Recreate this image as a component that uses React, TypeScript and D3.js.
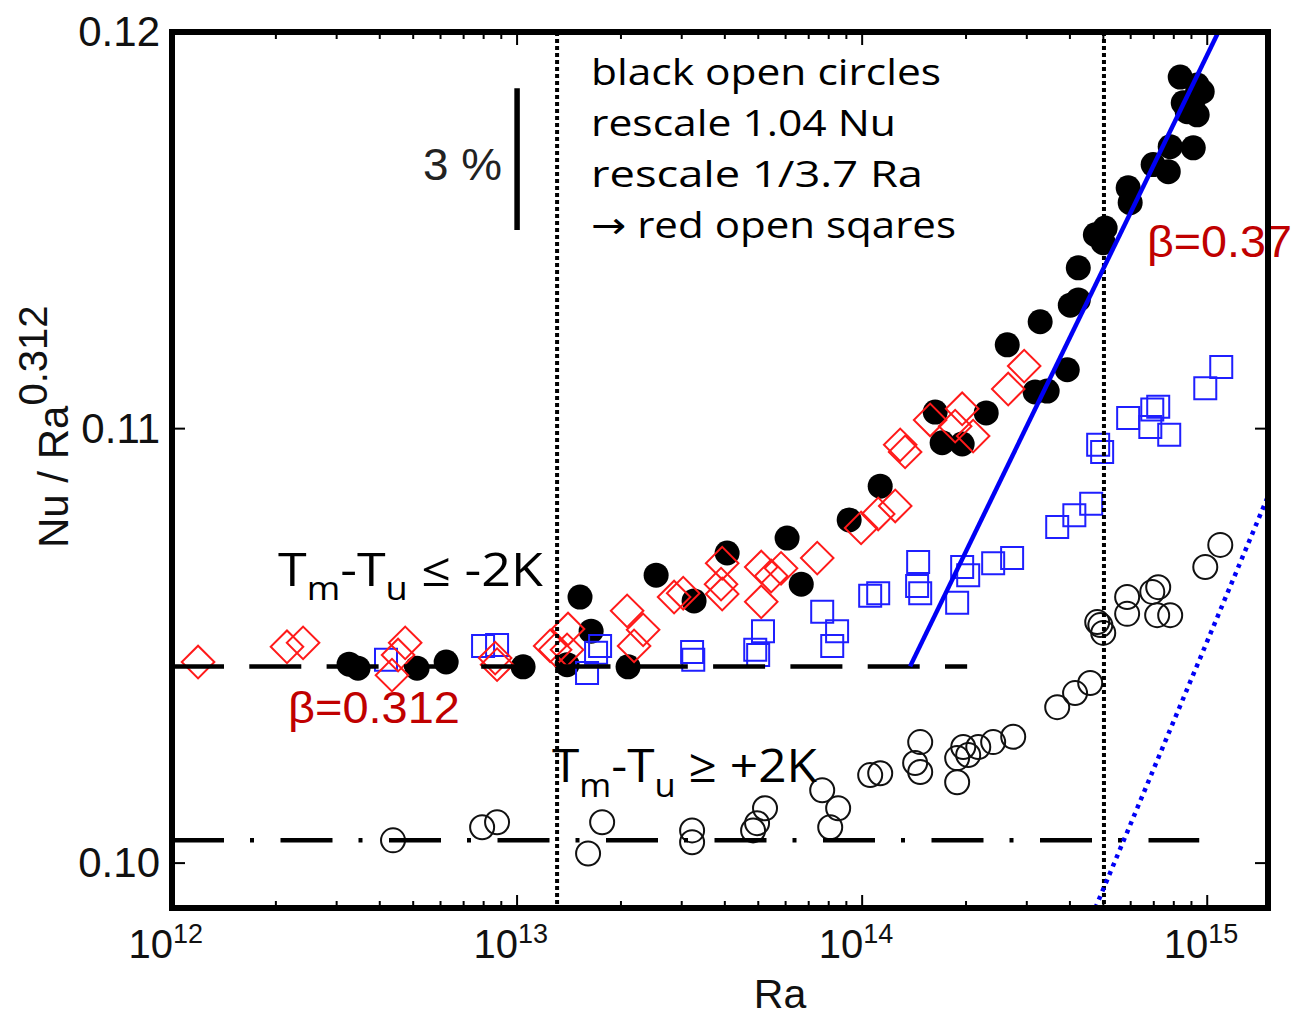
import React from "react";
import * as d3 from "d3";

// Nu / Ra^0.312 versus Ra, log-log
const WIDTH = 1295;
const HEIGHT = 1018;

const raDomain: [number, number] = [1e12, 1.5e15];
const nuDomain: [number, number] = [0.09902, 0.12];

const xMajorTicks = [1e12, 1e13, 1e14, 1e15];
const xTickExponents = ["12", "13", "14", "15"];
const yTicks = [0.1, 0.11, 0.12];
const yTickLabels = ["0.10", "0.11", "0.12"];

// filled black circles
const filledCircles: [number, number][] = [
  [3.26e12, 0.10446], [3.46e12, 0.10437], [5.13e12, 0.10437], [6.23e12, 0.10451],
  [1.041e13, 0.1044], [1.396e13, 0.10445], [1.522e13, 0.10601], [1.639e13, 0.10522],
  [2.097e13, 0.1044], [2.529e13, 0.10652], [3.258e13, 0.10592], [4.062e13, 0.10704],
  [6.06e13, 0.10739], [6.66e13, 0.10631], [9.17e13, 0.10782], [1.128e14, 0.10862],
  [1.628e14, 0.1104], [1.705e14, 0.10966], [1.949e14, 0.10963], [2.288e14, 0.11038],
  [2.633e14, 0.11204], [3.171e14, 0.11089], [3.437e14, 0.11091], [3.28e14, 0.11261],
  [3.93e14, 0.11143], [4.01e14, 0.11302], [4.23e14, 0.11315], [4.23e14, 0.11395],
  [4.74e14, 0.11478], [5.06e14, 0.11495], [4.996e14, 0.11458], [5.9e14, 0.11597],
  [5.98e14, 0.11559], [6.97e14, 0.11656], [7.71e14, 0.11638], [7.81e14, 0.11702],
  [9.11e14, 0.11699], [8.75e14, 0.11792], [9.35e14, 0.11784], [8.52e14, 0.11815],
  [9.11e14, 0.11823], [9.67e14, 0.11844], [8.35e14, 0.11882], [9.35e14, 0.11861],
];

// red open diamonds (rescaled open circles)
const redDiamonds: [number, number][] = [
  [1.19e12, 0.10451], [2.154e12, 0.10486], [2.398e12, 0.10495], [4.74e12, 0.10495],
  [4.52e12, 0.10467], [4.34e12, 0.10421], [8.64e12, 0.1046], [8.75e12, 0.10445],
  [1.289e13, 0.10479], [1.247e13, 0.10488], [1.396e13, 0.10479], [1.405e13, 0.10527],
  [2.084e13, 0.10569], [2.319e13, 0.10525], [2.183e13, 0.10488], [2.851e13, 0.10601],
  [3.03e13, 0.1061], [3.93e13, 0.1068], [3.9e13, 0.10631], [3.93e13, 0.10608],
  [5.1e13, 0.10671], [5.1e13, 0.1059], [5.45e13, 0.1065], [5.82e13, 0.10668],
  [7.41e13, 0.10692], [9.93e13, 0.10763], [1.113e14, 0.10796], [1.247e14, 0.10815],
  [1.289e14, 0.10961], [1.332e14, 0.10944], [1.574e14, 0.11021], [1.86e14, 0.11006],
  [1.949e14, 0.11048], [2.097e14, 0.10982], [2.65e14, 0.11096], [2.948e14, 0.11152],
];

// blue open squares
const blueSquares: [number, number][] = [
  [4.17e12, 0.10456], [7.97e12, 0.10488], [8.75e12, 0.1049], [1.74e13, 0.10488],
  [1.694e13, 0.10472], [1.595e13, 0.10426], [3.215e13, 0.10474], [3.24e13, 0.10456],
  [4.9e13, 0.10479], [4.996e13, 0.10467], [5.16e13, 0.10522], [7.66e13, 0.10567],
  [8.46e13, 0.10522], [8.19e13, 0.10488], [1.055e14, 0.10604], [1.113e14, 0.1061],
  [1.453e14, 0.10683], [1.443e14, 0.10627], [1.473e14, 0.1061], [1.949e14, 0.10671],
  [2.029e14, 0.10652], [1.885e14, 0.10588], [2.397e14, 0.1068], [2.72e14, 0.10692],
  [3.675e14, 0.10765], [4.12e14, 0.10793], [4.61e14, 0.1082], [4.83e14, 0.10961],
  [4.96e14, 0.10944], [5.9e14, 0.11026], [6.93e14, 0.11046], [7.21e14, 0.11053],
  [6.84e14, 0.11004], [7.76e14, 0.10985], [9.87e14, 0.11098], [1.098e15, 0.1115],
];

// black open circles
const openCircles: [number, number][] = [
  [4.37e12, 0.1005], [7.92e12, 0.10079], [8.75e12, 0.1009], [1.606e13, 0.10021],
  [1.764e13, 0.1009], [3.215e13, 0.10072], [3.215e13, 0.10046], [4.83e13, 0.10072],
  [4.96e13, 0.10088], [5.23e13, 0.10121], [7.66e13, 0.10161], [8.52e13, 0.10121],
  [8.08e13, 0.10079], [1.055e14, 0.10195], [1.128e14, 0.10199], [1.473e14, 0.10269],
  [1.424e14, 0.10222], [1.473e14, 0.10202], [1.885e14, 0.10179], [1.885e14, 0.10233],
  [1.963e14, 0.10258], [2.029e14, 0.1024], [2.17e14, 0.10258], [2.397e14, 0.10269],
  [2.74e14, 0.10281], [3.675e14, 0.10348], [4.14e14, 0.1038], [4.58e14, 0.10403],
  [4.8e14, 0.10543], [4.9e14, 0.10536], [4.996e14, 0.10518], [5.86e14, 0.10601],
  [5.86e14, 0.10562], [6.93e14, 0.10613], [7.21e14, 0.10624], [7.16e14, 0.10559],
  [7.81e14, 0.10559], [9.87e14, 0.10671], [1.091e15, 0.10723],
];

// reference lines
const coldPlateau: [number, number][] = [[1e12, 0.10441], [2.015e14, 0.10441]];
const warmPlateau: [number, number][] = [[1e12, 0.1005], [9.48e14, 0.1005]];
const transitionRa = [1.306e13, 5.02e14];
const steepFit: [number, number][] = [[1.377e14, 0.10441], [1.077e15, 0.12]];
const steepFitShifted: [number, number][] = [[4.74e14, 0.09902], [1.493e15, 0.10834]];
const scaleBarRa = 1e13;
const scaleBarRange: [number, number] = [0.1149, 0.11853];

const noteLines = [
  "black open circles",
  "rescale 1.04 Nu",
  "rescale 1/3.7  Ra",
  "\u2192 red open sqares",
];
const noteLengths = [350, 305, 332, 365];

const sansFont = "'Liberation Sans', Arial, Helvetica, sans-serif";
const noteFont = "'Comic Sans MS', 'Open Sans', 'DejaVu Sans', sans-serif";
const darkRed = "#c00000";

export default function App() {
  const x = d3.scaleLog().domain(raDomain).range([172, 1268]);
  const y = d3.scaleLog().domain(nuDomain).range([908, 32]);
  const line = d3
    .line<[number, number]>()
    .x((d) => x(d[0]))
    .y((d) => y(d[1]));

  const diamond = d3.symbol().type(d3.symbolSquare).size(530)() as string;
  const square = d3.symbol().type(d3.symbolSquare).size(484)() as string;

  const [x0, x1] = x.range();
  const [yb, yt] = y.range();
  const allXTicks = x.ticks();

  return (
    <svg
      width={WIDTH}
      height={HEIGHT}
      style={{ position: "absolute", left: 0, top: 0, display: "block", background: "#fff" }}
    >
      <rect x={0} y={0} width={WIDTH} height={HEIGHT} fill="#fff" />

      {/* markers */}
      <g>
        {filledCircles.map((d, i) => (
          <circle key={"f" + i} cx={x(d[0])} cy={y(d[1])} r={12.5} fill="#000" />
        ))}
      </g>
      <g>
        {openCircles.map((d, i) => (
          <circle key={"o" + i} cx={x(d[0])} cy={y(d[1])} r={12} fill="none" stroke="#111" strokeWidth={2} />
        ))}
      </g>
      <g>
        {blueSquares.map((d, i) => (
          <path key={"s" + i} d={square} transform={`translate(${x(d[0])},${y(d[1])})`} fill="none" stroke="#1f1fff" strokeWidth={2} />
        ))}
      </g>
      <g>
        {redDiamonds.map((d, i) => (
          <path key={"d" + i} d={diamond} transform={`translate(${x(d[0])},${y(d[1])}) rotate(45)`} fill="none" stroke="#ff1a1a" strokeWidth={2} />
        ))}
      </g>

      {/* plateau lines */}
      <path d={line(coldPlateau) as string} fill="none" stroke="#000" strokeWidth={4.5} strokeDasharray="52 25.3" />
      <path d={line(warmPlateau) as string} fill="none" stroke="#000" strokeWidth={4.5} strokeDasharray="52 26 4 26.5" />

      {/* transitions */}
      {transitionRa.map((r, i) => (
        <line key={"t" + i} x1={x(r)} x2={x(r)} y1={yt} y2={yb} stroke="#000" strokeWidth={4} strokeDasharray="4 3" />
      ))}

      {/* power-law fits */}
      <path d={line(steepFit) as string} fill="none" stroke="#0000f5" strokeWidth={4.5} />
      <path d={line(steepFitShifted) as string} fill="none" stroke="#0000f5" strokeWidth={4.5} strokeDasharray="4 5" />

      {/* 3 % bar */}
      <line x1={x(scaleBarRa)} x2={x(scaleBarRa)} y1={y(scaleBarRange[0])} y2={y(scaleBarRange[1])} stroke="#000" strokeWidth={5.5} />
      <text x={423} y={180} fontFamily={sansFont} fontSize={44} fill="#222" textLength={79} lengthAdjust="spacingAndGlyphs">3 %</text>

      {/* notes */}
      {noteLines.map((t, i) => (
        <text key={"n" + i} x={591} y={85 + i * 51} fontFamily={noteFont} fontSize={36} fill="#000" textLength={noteLengths[i]} lengthAdjust="spacingAndGlyphs">
          {t}
        </text>
      ))}

      <text x={1147} y={257} fontFamily={sansFont} fontSize={44} fill={darkRed} textLength={145} lengthAdjust="spacingAndGlyphs">β=0.37</text>
      <text x={288} y={723} fontFamily={sansFont} fontSize={44} fill={darkRed} textLength={172} lengthAdjust="spacingAndGlyphs">β=0.312</text>

      <text x={278} y={586} fontFamily={noteFont} fontSize={46} fill="#000" textLength={265} lengthAdjust="spacingAndGlyphs">
        T<tspan dy={14} fontSize={32}>m</tspan>
        <tspan dy={-14}>-T</tspan>
        <tspan dy={14} fontSize={32}>u</tspan>
        <tspan dy={-14}> ≤ -2K</tspan>
      </text>
      <text x={552} y={782} fontFamily={noteFont} fontSize={46} fill="#000" textLength={265} lengthAdjust="spacingAndGlyphs">
        T<tspan dy={15} fontSize={32}>m</tspan>
        <tspan dy={-15}>-T</tspan>
        <tspan dy={15} fontSize={32}>u</tspan>
        <tspan dy={-15}> ≥ +2K</tspan>
      </text>

      {/* ticks */}
      <g stroke="#000" strokeWidth={2}>
        {allXTicks.map((t, i) => {
          const major = xMajorTicks.some((m) => Math.abs(m - t) / m < 1e-6);
          const len = major ? 13 : 7;
          return (
            <g key={"xt" + i}>
              <line x1={x(t)} x2={x(t)} y1={yb} y2={yb - len} />
              <line x1={x(t)} x2={x(t)} y1={yt} y2={yt + len} />
            </g>
          );
        })}
        {yTicks.map((t, i) => (
          <g key={"yt" + i}>
            <line x1={x0} x2={x0 + 13} y1={y(t)} y2={y(t)} />
            <line x1={x1} x2={x1 - 13} y1={y(t)} y2={y(t)} />
          </g>
        ))}
      </g>

      {/* frame */}
      <rect x={x0} y={yt} width={x1 - x0} height={yb - yt} fill="none" stroke="#000" strokeWidth={6} />

      {/* tick labels */}
      {yTicks.map((t, i) => (
        <text key={"yl" + i} x={160} y={y(t) + 14} textAnchor="end" fontFamily={sansFont} fontSize={42} fill="#111">
          {yTickLabels[i]}
        </text>
      ))}
      {xMajorTicks.map((t, i) => (
        <g key={"xl" + i} fontFamily={sansFont} fill="#111">
          <text x={x(t) + 1} y={958} textAnchor="end" fontSize={40}>10</text>
          <text x={x(t) + 1} y={943} textAnchor="start" fontSize={27}>{xTickExponents[i]}</text>
        </g>
      ))}

      {/* axis titles */}
      <text x={780} y={1008} textAnchor="middle" fontFamily={sansFont} fontSize={41} fill="#111">Ra</text>
      <text transform="translate(68,548) rotate(-90)" fontFamily={sansFont} fontSize={42} fill="#111">
        Nu / Ra<tspan dy={-21} fontSize={40}>0.312</tspan>
      </text>
    </svg>
  );
}
